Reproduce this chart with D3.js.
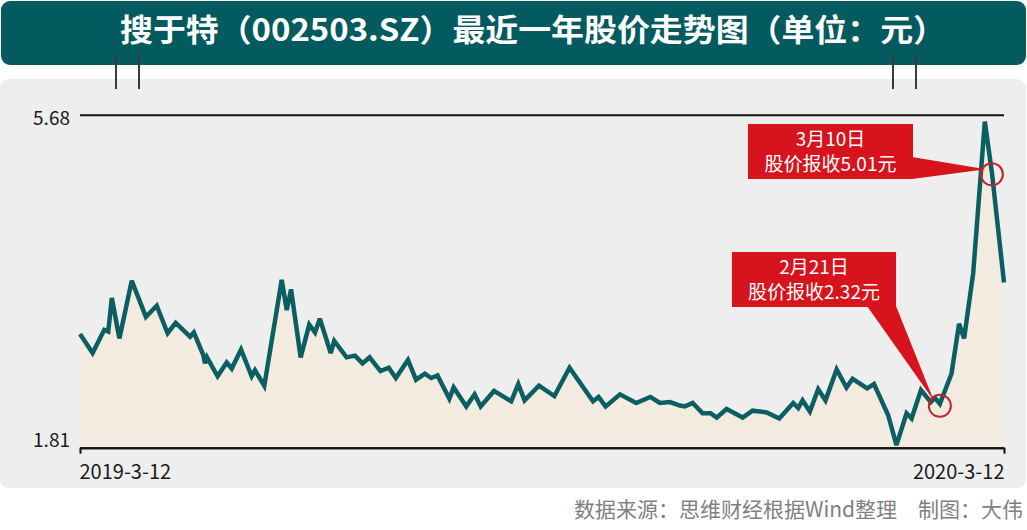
<!DOCTYPE html>
<html>
<head>
<meta charset="utf-8">
<script src="https://cdn.jsdelivr.net/npm/d3@7"></script>
<style>
  html, body { margin: 0; padding: 0; background: #ffffff; }
  svg { display: block; }
  text { font-family: "Noto Sans CJK SC", "Noto Sans", sans-serif; }
</style>
</head>
<body>
<svg id="chart" width="1027" height="530"></svg>
<script>
// ---------- data ----------
const titleText = "搜于特（002503.SZ）最近一年股价走势图（单位：元）";
const sourceText = "数据来源：思维财经根据Wind整理　制图：大伟";
const startDate = "2019-3-12";
const endDate = "2020-3-12";
// day offsets from 2019-3-12 (span of 366 days to 2020-3-12)
const dayOffsets = [0, 5.0, 9.6, 11.2, 12.6, 15.6, 20.5, 26.1, 30.4, 34.7, 37.9, 43.6, 45.1, 48.8, 49.5, 50.3,
  54.5, 58.1, 60.1, 63.8, 68.0, 69.3, 73.0, 79.9, 81.9, 83.6, 87.4, 90.8, 93.1, 95.0, 99.3, 100.7,
  105.6, 108.9, 111.9, 114.7, 119.0, 122.3, 125.1, 129.9, 133.1, 136.6, 139.1, 141.6, 146.3, 148.0,
  153.0, 156.3, 158.7, 164.0, 170.8, 173.6, 176.1, 181.8, 187.9, 193.9, 203.2, 205.4, 208.2, 213.9,
  220.3, 225.9, 229.7, 233.7, 237.6, 239.6, 242.7, 246.6, 249.8, 252.2, 256.1, 262.5, 266.4, 272.0,
  277.0, 282.5, 284.5, 286.2, 289.1, 292.4, 295.3, 299.7, 303.6, 306.0, 311.8, 314.5, 320.1, 323.4,
  327.4, 329.4, 333.1, 337.0, 338.6, 340.6, 345.2, 348.2, 350.2, 353.8, 358.4, 361.2, 366];
const prices = [3.13, 2.91, 3.18, 3.16, 3.55, 3.08, 3.75, 3.33, 3.46, 3.14, 3.26, 3.10, 3.15, 2.89, 2.79, 2.86,
  2.64, 2.80, 2.73, 2.95, 2.64, 2.71, 2.53, 3.76, 3.41, 3.65, 2.86, 3.24, 3.15, 3.31, 2.91, 3.05,
  2.86, 2.88, 2.79, 2.86, 2.70, 2.74, 2.62, 2.83, 2.60, 2.67, 2.62, 2.65, 2.38, 2.51,
  2.29, 2.43, 2.29, 2.47, 2.35, 2.55, 2.36, 2.53, 2.41, 2.74, 2.35, 2.40, 2.29, 2.43,
  2.33, 2.40, 2.33, 2.34, 2.30, 2.29, 2.33, 2.21, 2.21, 2.16, 2.26, 2.16, 2.24, 2.22,
  2.15, 2.33, 2.27, 2.36, 2.23, 2.49, 2.36, 2.72, 2.51, 2.61, 2.50, 2.55, 2.19, 1.84,
  2.21, 2.15, 2.48, 2.34, 2.39, 2.32, 2.67, 3.25, 3.08, 3.84, 5.60, 5.01, 3.73];
const yTicks = [1.81, 5.68];
const xTicks = [0, 366];
const xTickLabels = [startDate, endDate];
const notes = [
  { idx: 93, line1: "2月21日", line2: "股价报收2.32元" },
  { idx: 99, line1: "3月10日", line2: "股价报收5.01元" }
];

// ---------- layout ----------
const svg = d3.select("#chart");
const plot = { left: 80, right: 1004, top: 114.7, bottom: 447.7 };

const x = d3.scaleLinear().domain([0, 366]).range([plot.left, plot.right]);
const y = d3.scaleLinear().domain([1.81, 5.68]).range([plot.bottom, plot.top]);

const data = dayOffsets.map((d, i) => ({ d, v: prices[i] }));

// panel background
svg.append("rect").attr("x", 0).attr("y", 79).attr("width", 1026).attr("height", 409)
  .attr("rx", 9).attr("fill", "#eeeeee");

// title banner
svg.append("rect").attr("x", 1).attr("y", 1).attr("width", 1025).attr("height", 64)
  .attr("rx", 9).attr("fill", "#035a5f");
svg.append("text").attr("x", 533).attr("y", 41).attr("text-anchor", "middle")
  .attr("fill", "#ffffff").attr("font-size", 31).attr("font-weight", "bold")
  .attr("textLength", 826).attr("lengthAdjust", "spacingAndGlyphs")
  .text(titleText);

// hanging decorative lines
[116, 139, 893, 916].forEach(px => {
  svg.append("line").attr("x1", px).attr("x2", px).attr("y1", 54).attr("y2", 89)
    .attr("stroke", "#3a3a3a").attr("stroke-width", 2);
});

// area fill
const area = d3.area().x(p => x(p.d)).y0(y(1.81)).y1(p => y(p.v));
svg.append("path").datum(data).attr("d", area).attr("fill", "#f3ebe0");

// y axis (value lines)
const yAxis = d3.axisLeft(y).tickValues(yTicks).tickFormat(d3.format(".2f"))
  .tickSize(-(plot.right - plot.left)).tickPadding(10);
const gy = svg.append("g").attr("transform", `translate(${plot.left},0)`).call(yAxis);
gy.select(".domain").remove();
gy.selectAll(".tick line").attr("stroke", "#111").attr("stroke-width", 2);
gy.selectAll(".tick text").attr("font-size", 19).attr("fill", "#1a1a1a")
  .attr("font-family", "'Noto Sans CJK SC', sans-serif")
  .attr("y", d => d === 5.68 ? 4 : -7);

// line
const line = d3.line().x(p => x(p.d)).y(p => y(p.v));
svg.append("path").datum(data).attr("d", line).attr("fill", "none")
  .attr("stroke", "#0b5e62").attr("stroke-width", 4.5).attr("stroke-linejoin", "miter")
  .attr("stroke-miterlimit", 3);

// x axis
const xAxis = d3.axisBottom(x).tickValues(xTicks).tickFormat((d, i) => xTickLabels[i])
  .tickSizeInner(6).tickSizeOuter(0).tickPadding(11);
const gx = svg.append("g").attr("transform", `translate(0,${plot.bottom})`).call(xAxis);
gx.select(".domain").attr("stroke", "#111").attr("stroke-width", 2);
gx.selectAll(".tick line").attr("stroke", "#111").attr("stroke-width", 2);
gx.selectAll(".tick text").attr("font-size", 20).attr("fill", "#1a1a1a")
  .attr("font-family", "'Noto Sans CJK SC', sans-serif")
  .attr("text-anchor", (d, i) => i === 0 ? "start" : "end")
  .attr("dx", (d, i) => i === 0 ? -1 : 0);

// callouts
const red = "#d7141d";
const boxes = [
  { note: notes[0], bx: 732, by: 252, bw: 164, bh: 55, ptr: [[867, 306], [896, 306]] },
  { note: notes[1], bx: 748, by: 124, bw: 165, bh: 55, ptr: [[912, 157], [912, 179]] }
];
boxes.forEach(b => {
  const p = data[b.note.idx];
  const tx = x(p.d), ty = y(p.v);
  svg.append("path")
    .attr("d", `M${b.ptr[0][0]},${b.ptr[0][1]}L${tx - 6},${ty - 3}L${b.ptr[1][0]},${b.ptr[1][1]}Z`)
    .attr("fill", red);
  svg.append("rect").attr("x", b.bx).attr("y", b.by).attr("width", b.bw).attr("height", b.bh)
    .attr("fill", red);
  svg.append("text").attr("x", b.bx + b.bw / 2).attr("y", b.by + 22).attr("text-anchor", "middle")
    .attr("fill", "#fff").attr("font-size", 19).text(b.note.line1);
  svg.append("text").attr("x", b.bx + b.bw / 2).attr("y", b.by + 47).attr("text-anchor", "middle")
    .attr("fill", "#fff").attr("font-size", 19).text(b.note.line2);
  svg.append("circle").attr("cx", tx).attr("cy", ty + 2).attr("r", 11)
    .attr("fill", "none").attr("stroke", "#c8202a").attr("stroke-width", 2);
});

// source
svg.append("text").attr("x", 1023).attr("y", 517).attr("text-anchor", "end")
  .attr("fill", "#808080").attr("font-size", 21).text(sourceText);
</script>
</body>
</html>
